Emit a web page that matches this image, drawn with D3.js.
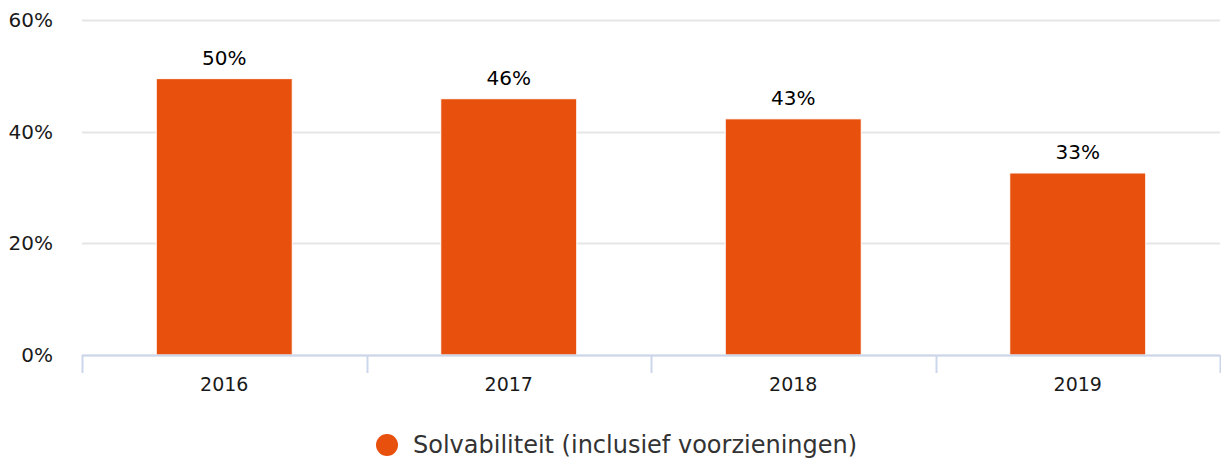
<!DOCTYPE html>
<html>
<head>
<meta charset="utf-8">
<script src="https://cdn.jsdelivr.net/npm/d3@7"></script>
<style>
  body { margin: 0; background: #fff; }
  svg { display: block; font-family: "DejaVu Sans", Verdana, sans-serif; }
</style>
</head>
<body>
<svg id="chart"></svg>
<script>
const years = ['2016', '2017', '2018', '2019'];
const solvency = [49.5, 45.9, 42.3, 32.6];
const valueLabels = ['50%', '46%', '43%', '33%'];
const yTicks = [0, 20, 40, 60];
const seriesName = 'Solvabiliteit (inclusief voorzieningen)';

const width = 1221, height = 461;
const margin = { top: 20, right: 1, bottom: 106, left: 82 };
const barColor = '#e8500e';

const svg = d3.select('#chart')
    .attr('width', width)
    .attr('height', height);

const x = d3.scaleBand()
    .domain(years)
    .range([margin.left, width - margin.right])
    .paddingInner(0)
    .paddingOuter(0);

const y = d3.scaleLinear()
    .domain([0, 60])
    .range([height - margin.bottom, margin.top]);

// gridlines
svg.append('g')
    .selectAll('line')
    .data(yTicks)
    .join('line')
    .attr('x1', margin.left)
    .attr('x2', width - margin.right)
    .attr('y1', d => Math.round(y(d)) + 0.5)
    .attr('y2', d => Math.round(y(d)) + 0.5)
    .attr('stroke', '#e6e6e6')
    .attr('stroke-width', 2);

// y labels
svg.append('g')
    .selectAll('text')
    .data(yTicks)
    .join('text')
    .attr('x', 53)
    .attr('y', d => y(d) + 7)
    .attr('text-anchor', 'end')
    .attr('font-size', 20)
    .attr('fill', '#1a1a1a')
    .text(d => d + '%');

// bars
const barW = x.bandwidth() * 0.478;
svg.append('g')
    .selectAll('rect')
    .data(years)
    .join('rect')
    .attr('x', d => x(d) + (x.bandwidth() - barW) / 2)
    .attr('y', (d, i) => y(solvency[i]))
    .attr('width', barW)
    .attr('height', (d, i) => y(0) - y(solvency[i]))
    .attr('fill', barColor)
    .attr('stroke', '#fff')
    .attr('stroke-width', 1);

// value labels
svg.append('g')
    .selectAll('text')
    .data(years)
    .join('text')
    .attr('x', d => x(d) + x.bandwidth() / 2)
    .attr('y', (d, i) => y(solvency[i]) - 14)
    .attr('text-anchor', 'middle')
    .attr('font-size', 20)
    .attr('fill', '#000')
    .text((d, i) => valueLabels[i]);

// x axis
const xAxis = svg.append('g');
xAxis.append('line')
    .attr('x1', margin.left)
    .attr('x2', width - margin.right)
    .attr('y1', y(0) + 0.5)
    .attr('y2', y(0) + 0.5)
    .attr('stroke', '#ccd6eb')
    .attr('stroke-width', 2);

const boundaries = years.map(d => x(d)).concat([x(years[years.length - 1]) + x.bandwidth()]);
xAxis.selectAll('.tick')
    .data(boundaries)
    .join('line')
    .attr('class', 'tick')
    .attr('x1', d => Math.round(d) + 0.5)
    .attr('x2', d => Math.round(d) + 0.5)
    .attr('y1', y(0))
    .attr('y2', y(0) + 18)
    .attr('stroke', '#ccd6eb')
    .attr('stroke-width', 2);

xAxis.selectAll('.xlabel')
    .data(years)
    .join('text')
    .attr('class', 'xlabel')
    .attr('x', d => x(d) + x.bandwidth() / 2)
    .attr('y', y(0) + 36)
    .attr('text-anchor', 'middle')
    .attr('font-size', 19)
    .attr('fill', '#1a1a1a')
    .text(d => d);

// legend
const legend = svg.append('g').attr('transform', 'translate(387,445)');
legend.append('circle')
    .attr('r', 11)
    .attr('fill', barColor);
legend.append('text')
    .attr('x', 26)
    .attr('y', 8)
    .attr('font-size', 24)
    .attr('fill', '#333')
    .text(seriesName);
</script>
</body>
</html>
